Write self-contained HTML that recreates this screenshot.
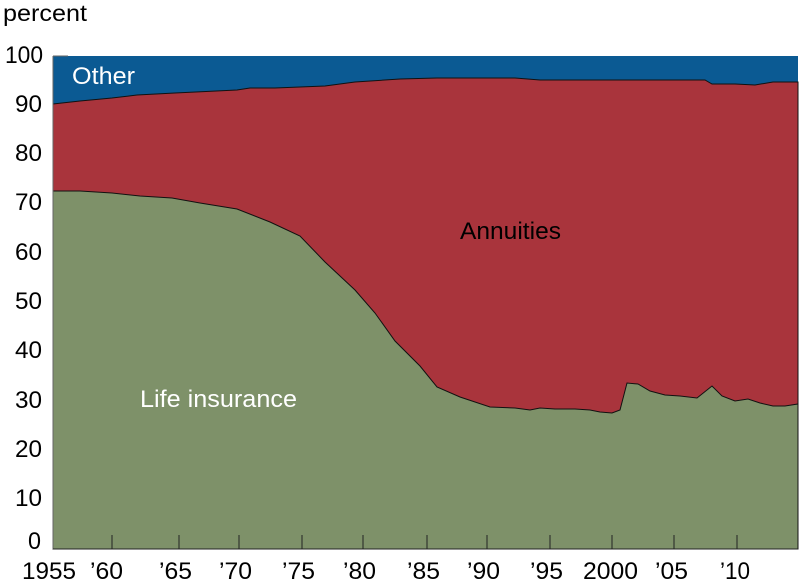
<!DOCTYPE html>
<html><head><style>body{margin:0;background:#fff}svg{display:block}</style></head><body>
<svg width="800" height="585" xmlns="http://www.w3.org/2000/svg" font-family="Liberation Sans, Arial, sans-serif">
<rect x="53" y="56" width="745" height="493" fill="#0b5a93"/>
<polygon fill="#a9343c" stroke="#111" stroke-width="1" points="53,104 80,101 112,98 137,95 175,93 237,90 250,88 275,88 300,87 325,86 355,82 400,79 437,78 490,78 515,78 540,80 575,80 612,80 640,80 690,80 705,80 712,84 735,84 755,85 773,82 798,82 798,549 53,549"/>
<polygon fill="#7e9169" stroke="#111" stroke-width="1" points="53,191 80,191 112,193 140,196 172,198 200,203 237,209 270,222 300,236 325,262 355,290 375,313 395,341 420,366 437,387 460,397 490,407 515,408 530,410 540,408 555,409 575,409 590,410 600,412 612,413 620,410 627,383 638,384 650,391 665,395 680,396 697,398 712,386 722,396 735,401 748,399 760,403 773,406 785,406 798,404 798,549 53,549"/>
<line x1="53" y1="56" x2="53" y2="549" stroke="#666" stroke-width="1"/>
<line x1="53" y1="56" x2="68" y2="56" stroke="#666"/>
<line x1="53" y1="549" x2="798" y2="549" stroke="#222" stroke-width="1"/>
<g stroke="#222" stroke-width="1">
<line x1="112" y1="535" x2="112" y2="549"/><line x1="179" y1="535" x2="179" y2="549"/><line x1="239" y1="535" x2="239" y2="549"/><line x1="302" y1="535" x2="302" y2="549"/><line x1="363" y1="535" x2="363" y2="549"/><line x1="427" y1="535" x2="427" y2="549"/><line x1="487" y1="535" x2="487" y2="549"/><line x1="550" y1="535" x2="550" y2="549"/><line x1="612" y1="535" x2="612" y2="549"/><line x1="674" y1="535" x2="674" y2="549"/><line x1="737" y1="535" x2="737" y2="549"/>
</g>
<g font-size="24" fill="#000">
<text x="5" y="63" textLength="38" lengthAdjust="spacingAndGlyphs">100</text>
<text x="15" y="112" textLength="27" lengthAdjust="spacingAndGlyphs">90</text>
<text x="15" y="161" textLength="27" lengthAdjust="spacingAndGlyphs">80</text>
<text x="15" y="210" textLength="27" lengthAdjust="spacingAndGlyphs">70</text>
<text x="15" y="260" textLength="27" lengthAdjust="spacingAndGlyphs">60</text>
<text x="15" y="309" textLength="27" lengthAdjust="spacingAndGlyphs">50</text>
<text x="15" y="358" textLength="27" lengthAdjust="spacingAndGlyphs">40</text>
<text x="15" y="408" textLength="27" lengthAdjust="spacingAndGlyphs">30</text>
<text x="15" y="457" textLength="27" lengthAdjust="spacingAndGlyphs">20</text>
<text x="15" y="506" textLength="27" lengthAdjust="spacingAndGlyphs">10</text>
<text x="28" y="549" textLength="13" lengthAdjust="spacingAndGlyphs">0</text>
</g>
<text x="3" y="21" font-size="23" textLength="84" lengthAdjust="spacingAndGlyphs">percent</text>
<g font-size="24" fill="#000">
<text x="22" y="579" textLength="54" lengthAdjust="spacingAndGlyphs">1955</text>
<text x="90" y="579" textLength="33" lengthAdjust="spacingAndGlyphs">’60</text>
<text x="159" y="579" textLength="33" lengthAdjust="spacingAndGlyphs">’65</text>
<text x="219" y="579" textLength="33" lengthAdjust="spacingAndGlyphs">’70</text>
<text x="282" y="579" textLength="33" lengthAdjust="spacingAndGlyphs">’75</text>
<text x="343" y="579" textLength="33" lengthAdjust="spacingAndGlyphs">’80</text>
<text x="407" y="579" textLength="33" lengthAdjust="spacingAndGlyphs">’85</text>
<text x="467" y="579" textLength="33" lengthAdjust="spacingAndGlyphs">’90</text>
<text x="530" y="579" textLength="33" lengthAdjust="spacingAndGlyphs">’95</text>
<text x="583" y="579" textLength="55" lengthAdjust="spacingAndGlyphs">2000</text>
<text x="655" y="579" textLength="33" lengthAdjust="spacingAndGlyphs">’05</text>
<text x="720" y="579" textLength="30" lengthAdjust="spacingAndGlyphs">’10</text>
</g>
<text x="72" y="84" font-size="24" fill="#fff" textLength="63" lengthAdjust="spacingAndGlyphs">Other</text>
<text x="460" y="239" font-size="24" fill="#000" textLength="101" lengthAdjust="spacingAndGlyphs">Annuities</text>
<text x="140" y="407" font-size="24" fill="#fff" textLength="157" lengthAdjust="spacingAndGlyphs">Life insurance</text>
</svg>
</body></html>
